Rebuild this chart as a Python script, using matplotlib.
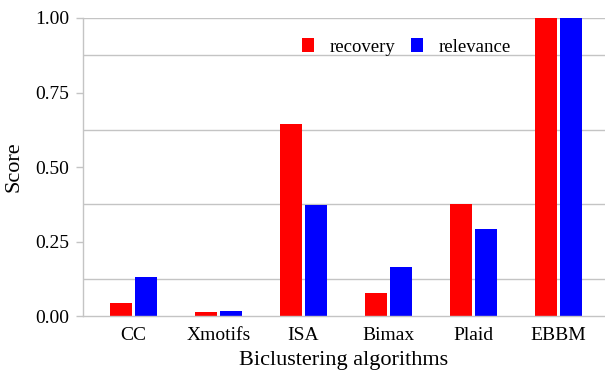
import numpy as np
import matplotlib.pyplot as plt
from matplotlib.patches import Patch

# Puntajes por algoritmo de biclustering
algoritmos = ['CC', 'Xmotifs', 'ISA', 'Bimax', 'Plaid', 'EBBM']
recovery = [0.044, 0.014, 0.644, 0.078, 0.376, 1.0]
relevance = [0.131, 0.018, 0.372, 0.165, 0.291, 1.0]
ticks_y = [0.0, 0.25, 0.5, 0.75, 1.0]
lineas_grid = [0.125, 0.375, 0.625, 0.875, 1.0]

plt.rcParams['font.family'] = ['Liberation Serif', 'DejaVu Serif']

fig = plt.figure(figsize=(6.05, 3.75), dpi=100)
ax = fig.add_axes([0.1372, 0.1573, 0.8628, 0.7947])

x = np.arange(len(algoritmos))
ancho = 0.25
sep = 0.147
ax.bar(x - sep, recovery, ancho, color='#ff0000', zorder=2)
ax.bar(x + sep, relevance, ancho, color='#0000ff', zorder=2)

gris = '#c4c4c4'
for g in lineas_grid:
    ax.axhline(g, color=gris, lw=1.0, zorder=1)

ax.set_xlim(-0.594, 5.547)
ax.set_ylim(0, 1.0)
ax.set_xticks(x)
ax.set_xticklabels(algoritmos)
ax.set_yticks(ticks_y)
ax.set_yticklabels([f'{t:.2f}' for t in ticks_y])

for lado in ['top', 'right']:
    ax.spines[lado].set_visible(False)
for lado in ['left', 'bottom']:
    ax.spines[lado].set_color(gris)
    ax.spines[lado].set_linewidth(1.0)

ax.tick_params(axis='x', length=0, pad=8, labelsize=14, colors='black')
ax.tick_params(axis='y', length=5, width=1.0, color=gris, pad=5, labelsize=14, labelcolor='black')

ax.set_xlabel('Biclustering algorithms', fontsize=16, labelpad=5)
ax.set_ylabel('Score', fontsize=16, labelpad=8)

# Leyenda sin marco en la parte superior
handles = [Patch(facecolor='#ff0000', edgecolor='none', label='recovery'),
           Patch(facecolor='#0000ff', edgecolor='none', label='relevance')]
fig.legend(handles=handles, loc='center', bbox_to_anchor=(0.672, 0.875), ncol=2,
           frameon=False, fontsize=13.5, handlelength=0.6, handleheight=0.78,
           handletextpad=0.85, columnspacing=0.85, borderpad=0, borderaxespad=0)

fig.savefig('out.png', dpi=100)
